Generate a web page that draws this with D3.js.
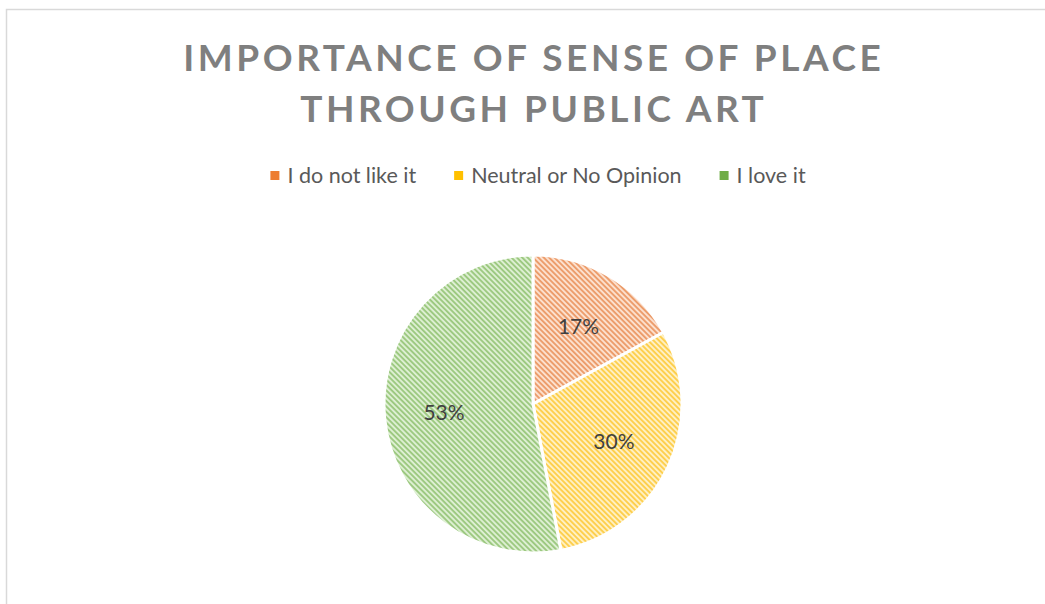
<!DOCTYPE html>
<html>
<head>
<meta charset="utf-8">
<script src="https://cdn.jsdelivr.net/npm/d3@7"></script>
<style>
  html, body { margin: 0; padding: 0; background: #ffffff; }
  svg { display: block; }
</style>
</head>
<body>
<svg id="chart" width="1045" height="604"></svg>
<script>
// ---- data ----
const titleLines = ["IMPORTANCE OF SENSE OF PLACE", "THROUGH PUBLIC ART"];
const categories = ["I do not like it", "Neutral or No Opinion", "I love it"];
const values = [17, 30, 53];
const labels = ["17%", "30%", "53%"];

// ---- styles ----
const stripeColors = ["#EC9D6C", "#FDCF4E", "#9DC981"];
const bgColors = ["#FCE0CE", "#FFF0C2", "#DDEFD2"];
const markerColors = ["#ED7D31", "#FFC000", "#70AD47"];

const W = 1045, H = 604;
const svg = d3.select("#chart");
const font = "Lato, 'Open Sans', sans-serif";

// border
svg.append("rect")
  .attr("x", 6.5).attr("y", 9.5)
  .attr("width", W + 10).attr("height", H + 10)
  .attr("fill", "#fff").attr("stroke", "#D9D9D9").attr("stroke-width", 1.5);

// patterns
const defs = svg.append("defs");
categories.forEach((c, i) => {
  const p = defs.append("pattern")
    .attr("id", "pat" + i)
    .attr("patternUnits", "userSpaceOnUse")
    .attr("width", 3.8).attr("height", 10)
    .attr("patternTransform", "rotate(-45)");
  p.append("rect").attr("width", 3.8).attr("height", 10).attr("fill", bgColors[i]);
  p.append("rect").attr("width", 1.9).attr("height", 10).attr("fill", stripeColors[i]);
});

// title
const titleTargets = [701, 467];
const titleY = [71, 122];
titleLines.forEach((t, i) => {
  const tx = svg.append("text")
    .attr("x", 532).attr("y", titleY[i])
    .attr("text-anchor", "middle")
    .attr("font-family", font)
    .attr("font-weight", "bold")
    .attr("font-size", 37)
    .attr("fill", "#7F7F7F")
    .text(t);
  const w = tx.node().getComputedTextLength();
  const ls = (titleTargets[i] - w) / (t.length);
  tx.style("letter-spacing", ls + "px").attr("x", 532 + ls / 2);
});

// legend
const legend = svg.append("g");
let xPos = 0;
categories.forEach((c, i) => {
  const g = legend.append("g").attr("transform", `translate(${xPos},0)`);
  g.append("rect").attr("x", 0).attr("y", -5).attr("width", 9).attr("height", 9)
    .attr("fill", markerColors[i]);
  const t = g.append("text").attr("x", 17).attr("y", 7)
    .attr("font-family", font).attr("font-size", 21.5).attr("fill", "#595959")
    .text(c);
  const w = t.node().getComputedTextLength();
  xPos += 17 + w + 38;
});
const legendW = xPos - 38;
legend.attr("transform", `translate(${538 - legendW / 2},176)`);

// pie
const cx = 533, cy = 404, r = 149;
const pie = d3.pie().sort(null).value(d => d);
const arcs = pie(values);
const arc = d3.arc().innerRadius(0).outerRadius(r);
const labelArc = d3.arc().innerRadius(r * 0.6).outerRadius(r * 0.6);
const gPie = svg.append("g").attr("transform", `translate(${cx},${cy})`);
gPie.selectAll("path.slice").data(arcs).enter().append("path")
  .attr("class", "slice")
  .attr("d", arc)
  .attr("fill", (d, i) => `url(#pat${i})`)
  .attr("stroke", "#ffffff")
  .attr("stroke-width", 3)
  .attr("stroke-linejoin", "round");

gPie.selectAll("text.lbl").data(arcs).enter().append("text")
  .attr("class", "lbl")
  .attr("transform", d => `translate(${labelArc.centroid(d)})`)
  .attr("text-anchor", "middle")
  .attr("dy", "0.35em")
  .attr("font-family", font)
  .attr("font-size", 21)
  .attr("fill", "#404040")
  .text((d, i) => labels[i]);
</script>
</body>
</html>
